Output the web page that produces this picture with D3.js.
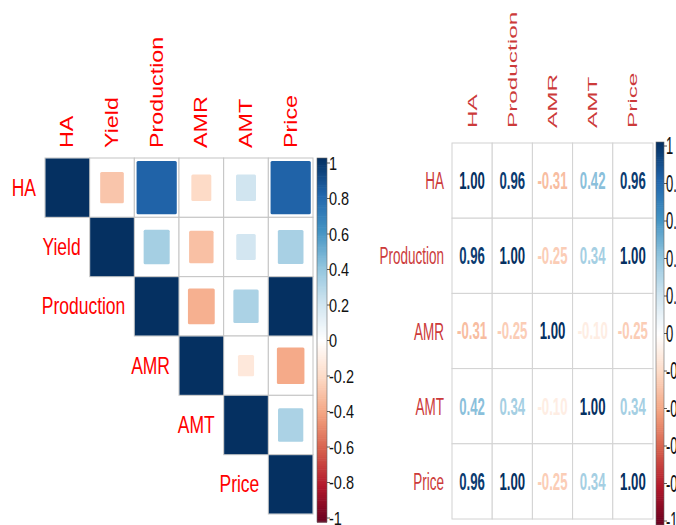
<!DOCTYPE html>
<html>
<head>
<meta charset="utf-8">
<script src="https://cdn.jsdelivr.net/npm/d3@7"></script>
<style>
  html, body { margin: 0; padding: 0; background: #fff; }
  svg { display: block; font-family: "Liberation Sans", Arial, sans-serif; }
</style>
</head>
<body>
<svg id="chart" width="676" height="525"></svg>
<script>
// ---- data ----------------------------------------------------------------
// Left panel: upper triangle (each row starts at its diagonal cell)
const leftVars = ["HA", "Yield", "Production", "AMR", "AMT", "Price"];
const leftUpper = [
  [1.00, -0.28, 0.81, -0.20, 0.20, 0.81],
  [1.00, 0.34, -0.30, 0.19, 0.33],
  [1.00, -0.36, 0.32, 1.00],
  [1.00, -0.13, -0.38],
  [1.00, 0.32],
  [1.00]
];

// Right panel: full correlation matrix shown as numbers
const rightVars = ["HA", "Production", "AMR", "AMT", "Price"];
const rightMatrix = [
  [1.00, 0.96, -0.31, 0.42, 0.96],
  [0.96, 1.00, -0.25, 0.34, 1.00],
  [-0.31, -0.25, 1.00, -0.10, -0.25],
  [0.42, 0.34, -0.10, 1.00, 0.34],
  [0.96, 1.00, -0.25, 0.34, 1.00]
];

// Colour legend ticks
const legendTicks = [1, 0.8, 0.6, 0.4, 0.2, 0, -0.2, -0.4, -0.6, -0.8, -1];
const legendLabels = ["1", "0.8", "0.6", "0.4", "0.2", "0", "-0.2", "-0.4", "-0.6", "-0.8", "-1"];

// RdBu diverging ramp
const rampColors = ["#67001F", "#B2182B", "#D6604D", "#F4A582", "#FDDBC7", "#FFFFFF",
                    "#D1E5F0", "#92C5DE", "#4393C3", "#2166AC", "#053061"];
const color = d3.scaleLinear()
  .domain(d3.range(11).map(i => -1 + i * 0.2))
  .range(rampColors)
  .interpolate(d3.interpolateRgb);

// two decimals with a plain hyphen for negatives
const fmt = v => d3.format(".2f")(v).replace("\u2212", "-");

const svg = d3.select("#chart");

// text placed with a vertical stretch (and optional rotation)
function label(g, txt, x, y, size, sy, opts = {}) {
  return g.append("text")
    .attr("transform", `translate(${x},${y}) scale(1,${sy})` + (opts.rotate ? " rotate(-90)" : ""))
    .attr("text-anchor", opts.anchor || "start")
    .attr("dy", "0.35em")
    .attr("font-size", size)
    .attr("font-weight", opts.weight || "normal")
    .attr("fill", opts.fill || "#000")
    .text(txt);
}

function colorLegend(g, x, w, y0, y1, t0, t1, size, sy) {
  const barY = d3.scaleLinear().domain([-1, 1]).range([y1, y0]);
  const n = 200;
  const steps = d3.range(n).map(i => -1 + (i + 0.5) * 2 / n);
  g.selectAll(null).data(steps).join("rect")
    .attr("x", x).attr("width", w)
    .attr("y", d => barY(d + 1 / n))
    .attr("height", Math.abs(barY(0) - barY(2 / n)) + 0.6)
    .attr("fill", d => color(d));
  g.append("rect").attr("x", x).attr("y", y0).attr("width", w).attr("height", y1 - y0)
    .attr("fill", "none").attr("stroke", "#666").attr("stroke-width", 0.6);
  const tickY = d3.scaleLinear().domain([-1, 1]).range([t1, t0]);
  legendTicks.forEach((t, i) => {
    g.append("line").attr("x1", x + w).attr("x2", x + w + 3)
      .attr("y1", tickY(t)).attr("y2", tickY(t)).attr("stroke", "#333").attr("stroke-width", 0.8);
    label(g, legendLabels[i], x + w + 2, tickY(t), size, sy, { fill: "#111" });
  });
}

// ---- left panel: squares, upper triangle --------------------------------
{
  const g = svg.append("g");
  const x = d3.scaleBand().domain(leftVars).range([45, 313]);
  const y = d3.scaleBand().domain(leftVars).range([158, 514]);
  const bw = x.bandwidth(), bh = y.bandwidth();
  const cells = [];
  leftUpper.forEach((row, i) => row.forEach((v, k) => {
    cells.push({ r: leftVars[i], c: leftVars[i + k], v });
  }));

  g.selectAll(".cell").data(cells).join("rect")
    .attr("x", d => x(d.c)).attr("y", d => y(d.r))
    .attr("width", bw).attr("height", bh)
    .attr("fill", "#fff").attr("stroke", "#c4c4c4").attr("stroke-width", 1);

  const full = d => Math.abs(d.v) > 0.99;
  g.selectAll(".sq").data(cells).join("rect")
    .attr("x", d => x(d.c) + bw * (1 - Math.sqrt(Math.abs(d.v))) / 2 + (full(d) ? 0.5 : 0))
    .attr("y", d => y(d.r) + bh * (1 - Math.sqrt(Math.abs(d.v))) / 2 + (full(d) ? 0.5 : 0))
    .attr("width", d => bw * Math.sqrt(Math.abs(d.v)) - (full(d) ? 1 : 0))
    .attr("height", d => bh * Math.sqrt(Math.abs(d.v)) - (full(d) ? 1 : 0))
    .attr("rx", d => full(d) ? 0 : 1.5)
    .attr("fill", d => color(d.v));

  const sy = 1.33;
  leftVars.forEach(v => {
    label(g, v, x(v) + bw / 2, 148, 17.5, sy, { rotate: true, fill: "#ff0000" });
  });
  leftVars.forEach(v => {
    label(g, v, x(v) - 9, y(v) + bh / 2, 17.5, sy, { anchor: "end", fill: "#ff0000" });
  });

  colorLegend(g, 317, 10, 158, 522, 163, 518, 14.5, 1.33);
}

// ---- right panel: numbers, full matrix -----------------------------------
{
  const g = svg.append("g");
  const x = d3.scaleBand().domain(rightVars).range([452, 653]);
  const y = d3.scaleBand().domain(rightVars).range([143, 519]);
  const bw = x.bandwidth(), bh = y.bandwidth();
  const cells = [];
  rightMatrix.forEach((row, i) => row.forEach((v, j) => {
    cells.push({ r: rightVars[i], c: rightVars[j], v });
  }));

  g.selectAll(".cell").data(cells).join("rect")
    .attr("x", d => x(d.c)).attr("y", d => y(d.r))
    .attr("width", bw).attr("height", bh)
    .attr("fill", "#fff").attr("stroke", "#d2d2d2").attr("stroke-width", 1);

  const sy = 1.8;
  cells.forEach(d => {
    label(g, fmt(d.v), x(d.c) + bw / 2, y(d.r) + bh / 2, 13.2, sy,
      { anchor: "middle", weight: "bold", fill: color(d.v) });
  });

  const labCol = "#cc3a3a";
  rightVars.forEach(v => {
    label(g, v, x(v) + bw / 2, 128, 13, 1.87, { rotate: true, fill: labCol });
  });
  rightVars.forEach(v => {
    label(g, v, x.range()[0] - 8, y(v) + bh / 2, 13.5, sy, { anchor: "end", fill: labCol });
  });

  colorLegend(g, 656, 8, 142, 525, 146, 521, 13, 1.8);
}
</script>
</body>
</html>
